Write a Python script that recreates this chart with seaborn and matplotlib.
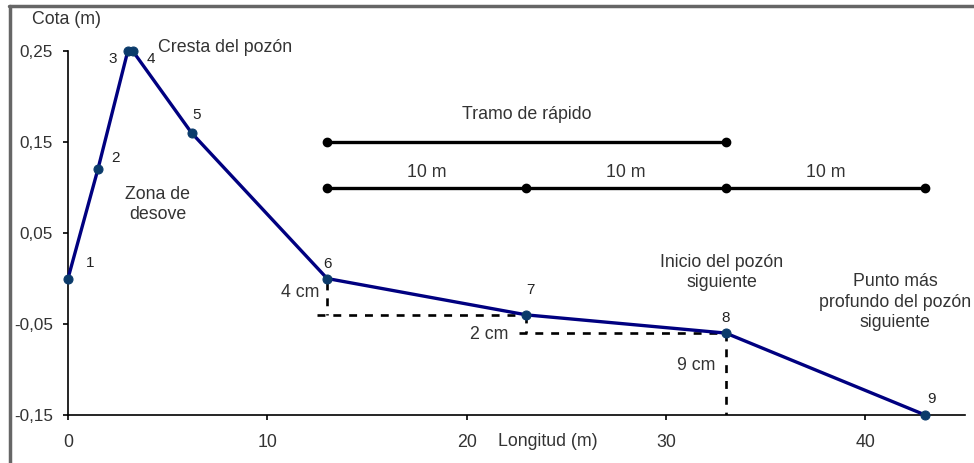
import matplotlib
matplotlib.use("Agg")
import matplotlib.pyplot as plt
import seaborn as sns
import pandas as pd
from matplotlib.lines import Line2D

# ---- data ----
longitud = [0, 1.5, 3.0, 3.25, 6.2, 13, 23, 33, 43]
cota = [0.0, 0.12, 0.25, 0.25, 0.16, 0.0, -0.04, -0.06, -0.15]
punto = ["1", "2", "3", "4", "5", "6", "7", "8", "9"]

rapido_x = [13, 33]
rapido_y = [0.15, 0.15]
tramos_x = [13, 23, 33, 43]
tramos_y = [0.10, 0.10, 0.10, 0.10]
tramo_labels = ["10 m", "10 m", "10 m"]

x_ticks = [0, 10, 20, 30, 40]
y_ticks = [-0.15, -0.05, 0.05, 0.15, 0.25]
y_ticklabels = ["-0,15", "-0,05", "0,05", "0,15", "0,25"]

sns.set_style("ticks")
plt.rcParams["font.family"] = ["Liberation Sans", "DejaVu Sans"]

fig = plt.figure(figsize=(9.74, 4.63), dpi=100)
ax = fig.add_axes([0.0698, 0.1037, 0.9908 - 0.0698, 0.8898 - 0.1037])

df = pd.DataFrame({"Longitud": longitud, "Cota": cota})
sns.lineplot(data=df, x="Longitud", y="Cota", ax=ax, color="#000080", lw=2.4,
             marker="o", markersize=6.5, markerfacecolor="#0b3b6b",
             markeredgecolor="#0b3b6b", sort=False, clip_on=False, zorder=5)

# reference bars
ax.plot(rapido_x, rapido_y, color="black", lw=2.4, marker="o", markersize=6, clip_on=False)
ax.plot(tramos_x, tramos_y, color="black", lw=2.4, marker="o", markersize=6, clip_on=False)

# dashed guide lines
dash = dict(color="black", lw=1.9, ls=(0, (3, 3)), zorder=3)
ax.plot([longitud[5], longitud[5]], [cota[5] - 0.004, cota[6]], **dash)
ax.plot([12.5, longitud[6]], [cota[6], cota[6]], **dash)
ax.plot([longitud[6], longitud[6]], [cota[6], cota[7]], **dash)
ax.plot([22.6, longitud[7]], [cota[7], cota[7]], **dash)
ax.plot([longitud[7], longitud[7]], [cota[7], -0.15], **dash)

ax.set_xlim(0, 45)
ax.set_ylim(-0.15, 0.25)
ax.set_xticks(x_ticks)
ax.set_xticklabels([str(t) for t in x_ticks])
ax.set_yticks(y_ticks)
ax.set_yticklabels(y_ticklabels)
ax.set_xlabel("")
ax.set_ylabel("")
for s in ["top", "right"]:
    ax.spines[s].set_visible(False)
for s in ["left", "bottom"]:
    ax.spines[s].set_color("black")
    ax.spines[s].set_linewidth(1.2)
ax.tick_params(axis="y", direction="out", length=3.8, width=1.2, color="black",
               labelsize=12.3, labelcolor="#333333", pad=7)
ax.tick_params(axis="x", direction="out", length=3.8, width=1.2, color="black",
               labelsize=12.8, labelcolor="#333333", pad=10)

txt = dict(fontsize=12.8, color="#333333")
# point labels
offs = [(1.1, 0.017), (2.4, 0.132), (2.26, 0.241), (4.16, 0.241), (6.47, 0.18),
        (13.0, 0.016), (23.2, -0.013), (33.0, -0.043), (43.3, -0.132)]
for (tx, ty), lab in zip(offs, punto):
    ax.text(tx, ty, lab, ha="center", va="center", fontsize=11, color="#222222")

ax.text(4.5, 0.254, "Cresta del pozón", ha="left", va="center", **txt)
ax.text(4.5, 0.081, "Zona de\ndesove", ha="center", va="center", linespacing=1.25, **txt)
ax.text(23.0, 0.18, "Tramo de rápido", ha="center", va="center", **txt)
for i, lab in enumerate(tramo_labels):
    ax.text((tramos_x[i] + tramos_x[i + 1]) / 2, 0.117, lab, ha="center", va="center", **txt)
ax.text(32.8, 0.007, "Inicio del pozón\nsiguiente", ha="center", va="center", linespacing=1.25, **txt)
ax.text(41.5, -0.026, "Punto más\nprofundo del pozón\nsiguiente", ha="center", va="center",
        linespacing=1.25, **txt)
ax.text(12.6, -0.015, "4 cm", ha="right", va="center", **txt)
ax.text(22.1, -0.061, "2 cm", ha="right", va="center", **txt)
ax.text(32.5, -0.096, "9 cm", ha="right", va="center", **txt)

fig.text(67 / 974, 1 - 20 / 463, "Cota (m)", ha="center", va="center", **txt)
fig.text(548 / 974, 1 - 441 / 463, "Longitud (m)", ha="center", va="center", **txt)

# figure frame (top and left visible)
fig.add_artist(Line2D([9 / 974, 1.0], [1 - 6 / 463, 1 - 6 / 463], transform=fig.transFigure,
                      color="#666666", lw=2.5))
fig.add_artist(Line2D([10 / 974, 10 / 974], [0, 1 - 6 / 463], transform=fig.transFigure,
                      color="#666666", lw=2.5))

fig.savefig("out.png", dpi=100)
